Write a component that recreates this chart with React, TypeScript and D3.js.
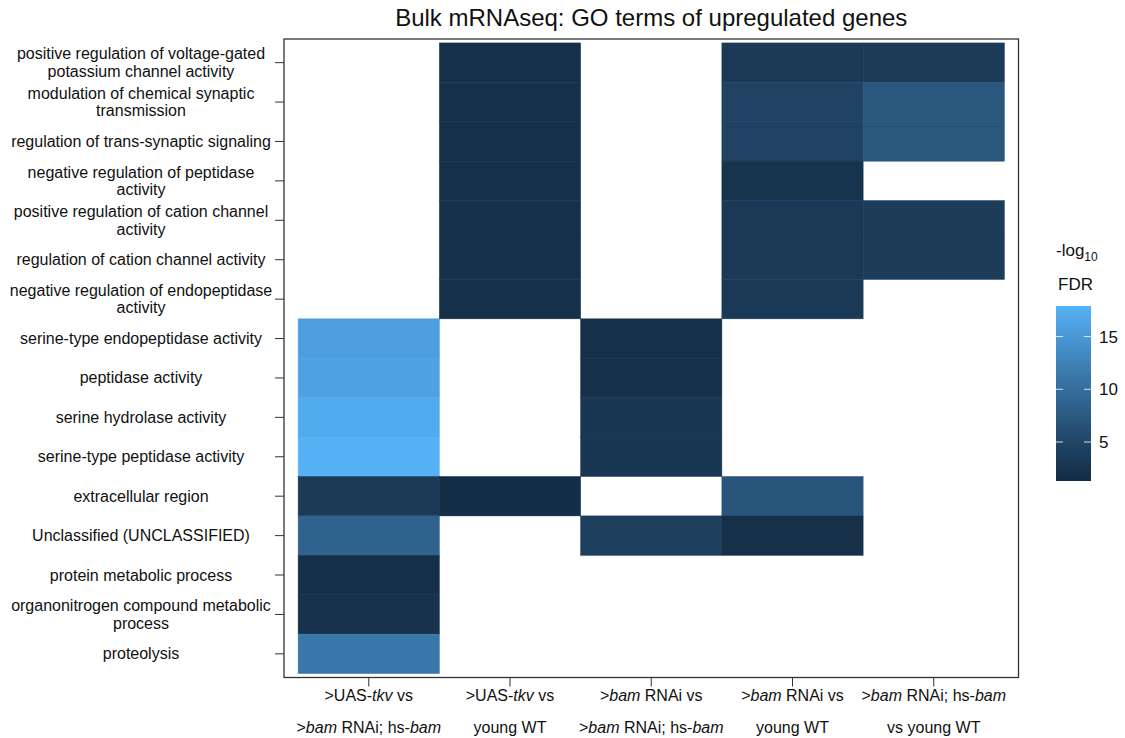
import React from "react";
import * as d3 from "d3";

const terms: string[][] = [
  ["positive regulation of voltage-gated", "potassium channel activity"],
  ["modulation of chemical synaptic", "transmission"],
  ["regulation of trans-synaptic signaling"],
  ["negative regulation of peptidase", "activity"],
  ["positive regulation of cation channel", "activity"],
  ["regulation of cation channel activity"],
  ["negative regulation of endopeptidase", "activity"],
  ["serine-type endopeptidase activity"],
  ["peptidase activity"],
  ["serine hydrolase activity"],
  ["serine-type peptidase activity"],
  ["extracellular region"],
  ["Unclassified (UNCLASSIFIED)"],
  ["protein metabolic process"],
  ["organonitrogen compound metabolic", "process"],
  ["proteolysis"],
];

type Seg = { t: string; i?: boolean };
const comparisons: Seg[][][] = [
  [[{ t: ">UAS-" }, { t: "tkv", i: true }, { t: " vs" }], [{ t: ">" }, { t: "bam", i: true }, { t: " RNAi; hs-" }, { t: "bam", i: true }]],
  [[{ t: ">UAS-" }, { t: "tkv", i: true }, { t: " vs" }], [{ t: "young WT" }]],
  [[{ t: ">" }, { t: "bam", i: true }, { t: " RNAi vs" }], [{ t: ">" }, { t: "bam", i: true }, { t: " RNAi; hs-" }, { t: "bam", i: true }]],
  [[{ t: ">" }, { t: "bam", i: true }, { t: " RNAi vs" }], [{ t: "young WT" }]],
  [[{ t: ">" }, { t: "bam", i: true }, { t: " RNAi; hs-" }, { t: "bam", i: true }], [{ t: "vs young WT" }]],
];

// -log10 FDR per column (null = not enriched)
const col1: (number | null)[] = [null, null, null, null, null, null, null, 15.8, 16.1, 17.2, 17.9, 3.4, 8.6, 1.8, 2.3, 11.2];
const col2: (number | null)[] = [2.0, 2.0, 2.0, 2.0, 2.0, 2.0, 2.0, null, null, null, null, 1.7, null, null, null, null];
const col3: (number | null)[] = [null, null, null, null, null, null, null, 2.0, 2.0, 2.9, 2.9, null, 4.0, null, null, null];
const col4: (number | null)[] = [3.4, 4.5, 4.5, 2.5, 3.3, 3.3, 3.3, null, null, null, null, 7.0, 2.0, null, null, null];
const col5: (number | null)[] = [3.5, 7.1, 7.1, null, 3.7, 3.7, null, null, null, null, null, null, null, null, null, null];
const columns = [col1, col2, col3, col4, col5];

const legendTicks = [5, 10, 15];
const fillMin = 1.3;
const fillMax = 17.9;

const FONT = "'Liberation Sans', Arial, sans-serif";

export default function App() {
  const W = 1125, H = 738;
  const left = 284, right = 1018.5, top = 39, bottom = 677.5;
  const nC = columns.length, nR = terms.length;
  const x = d3.scaleLinear().domain([0.4, nC + 0.6]).range([left, right]);
  const y = d3.scaleLinear().domain([0.4, nR + 0.6]).range([top, bottom]);
  const color = d3.scaleLinear<string>().domain([fillMin, fillMax]).range(["#132B43", "#56B1F7"]).interpolate(d3.interpolateLab);

  const cells: JSX.Element[] = [];
  columns.forEach((col, ci) => {
    col.forEach((v, ri) => {
      if (v == null) return;
      const x0 = x(ci + 0.5), x1 = x(ci + 1.5);
      const y0 = y(ri + 0.5), y1 = y(ri + 1.5);
      cells.push(
        <rect key={`${ci}-${ri}`} x={x0} y={y0} width={x1 - x0} height={y1 - y0} fill={color(v)} stroke={color(v)} strokeWidth={0.5} />
      );
    });
  });

  // legend
  const lgX = 1056, lgW = 35, lgTop = 306, lgBot = 481;
  const ly = d3.scaleLinear().domain([fillMin, fillMax]).range([lgBot, lgTop]);
  const stops = d3.range(0, 1.0001, 0.1);

  return (
    <svg width={W} height={H} style={{ display: "block", position: "absolute", left: 0, top: 0 }} fontFamily={FONT}>
      <defs>
        <linearGradient id="lg" x1="0" y1="1" x2="0" y2="0">
          {stops.map((s) => (
            <stop key={s} offset={s} stopColor={color(fillMin + s * (fillMax - fillMin))} />
          ))}
        </linearGradient>
      </defs>
      <rect width={W} height={H} fill="white" />
      <text x={(left + right) / 2} y={26} textAnchor="middle" fontSize={24} fill="#111">
        Bulk mRNAseq: GO terms of upregulated genes
      </text>
      {cells}
      <rect x={left} y={top} width={right - left} height={bottom - top} fill="none" stroke="#333" strokeWidth={1.3} />
      {terms.map((lines, ri) => {
        const cy = y(ri + 1);
        const lh = 17.5;
        const y0 = cy - ((lines.length - 1) * lh) / 2 + 5.5;
        return (
          <g key={ri}>
            <line x1={left - 9} x2={left} y1={cy} y2={cy} stroke="#333" strokeWidth={1} />
            <text textAnchor="middle" fontSize={16} fill="#111">
              {lines.map((l, k) => (
                <tspan key={k} x={141} y={y0 + k * lh}>{l}</tspan>
              ))}
            </text>
          </g>
        );
      })}
      {comparisons.map((lines, ci) => {
        const cx = x(ci + 1);
        return (
          <g key={ci}>
            <line x1={cx} x2={cx} y1={bottom} y2={bottom + 9} stroke="#333" strokeWidth={1} />
            {lines.map((segs, k) => (
              <text key={k} x={cx} y={701 + k * 32} textAnchor="middle" fontSize={16} fill="#111">
                {segs.map((s, j) => (
                  <tspan key={j} fontStyle={s.i ? "italic" : "normal"}>{s.t}</tspan>
                ))}
              </text>
            ))}
          </g>
        );
      })}
      <text x={1056} y={256} fontSize={17} fill="#111">
        -log<tspan fontSize={12} dy={5}>10</tspan>
      </text>
      <text x={1058} y={290} fontSize={17} fill="#111">FDR</text>
      <rect x={lgX} y={lgTop} width={lgW} height={lgBot - lgTop} fill="url(#lg)" />
      {legendTicks.map((t) => (
        <g key={t}>
          <line x1={lgX} x2={lgX + 7} y1={ly(t)} y2={ly(t)} stroke="white" strokeOpacity={0.8} />
          <line x1={lgX + lgW - 7} x2={lgX + lgW} y1={ly(t)} y2={ly(t)} stroke="white" strokeOpacity={0.8} />
          <text x={lgX + lgW + 8} y={ly(t) + 6} fontSize={17} fill="#111">{t}</text>
        </g>
      ))}
    </svg>
  );
}
